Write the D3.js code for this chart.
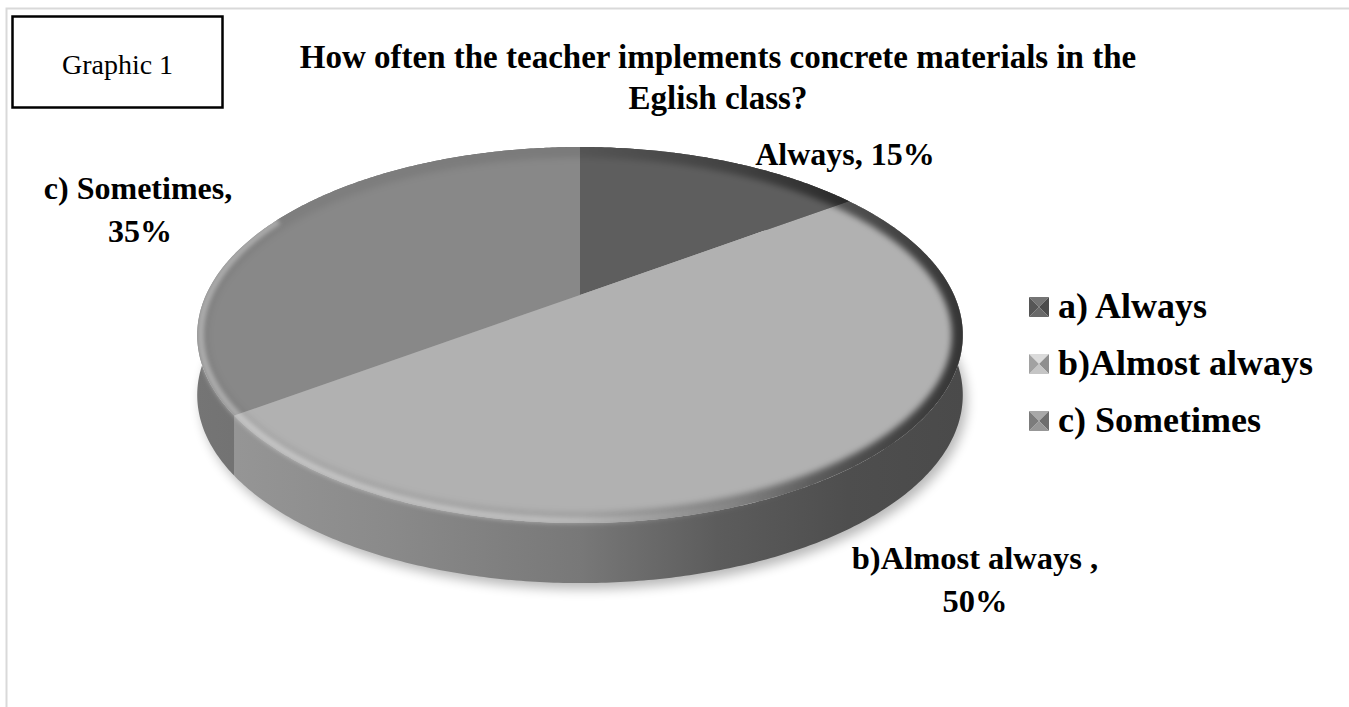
<!DOCTYPE html>
<html>
<head>
<meta charset="utf-8">
<script src="https://cdn.jsdelivr.net/npm/d3@7"></script>
<style>
  body { margin: 0; background: #fff; }
  svg { display: block; }
  text { font-family: "Liberation Serif", "Times New Roman", serif; fill: #000; }
</style>
</head>
<body>
<svg id="chart" width="1349" height="707"></svg>
<script>
// ---- data ----
const categories = ["a) Always", "b)Almost always", "c) Sometimes"];
const labelNames = ["Always", "b)Almost always ", "c) Sometimes"];
const percentages = [15, 50, 35];
const sliceColors = ["#5e5e5e", "#b1b1b1", "#888888"];
const titleLines = ["How often the teacher implements concrete materials in the", "Eglish class?"];
const boxLabel = "Graphic 1";

const svg = d3.select("#chart");
const defs = svg.append("defs");

function addText(x, y, str, size, weight, anchor) {
  return svg.append("text")
    .attr("x", x).attr("y", y)
    .attr("text-anchor", anchor)
    .style("font-size", size + "px")
    .style("font-weight", weight)
    .text(str);
}

// ---- frame ----
svg.append("rect").attr("x", 6.5).attr("y", 8.5).attr("width", 1400).attr("height", 760)
  .attr("fill", "none").attr("stroke", "#d9d9d9").attr("stroke-width", 2);

svg.append("rect").attr("x", 12.5).attr("y", 16.5).attr("width", 210).attr("height", 91)
  .attr("fill", "#fff").attr("stroke", "#000").attr("stroke-width", 2.5);
addText(117.5, 74, boxLabel, 28, "normal", "middle");

// ---- title ----
addText(718, 68, titleLines[0], 33, "bold", "middle");
addText(718, 109, titleLines[1], 33, "bold", "middle");

// ---- pie geometry (perspective-projected disc) ----
const cx = 580, cy = 295, A = 374, B = 179.5, K = 0.213, DEPTH = 60;
function proj(theta, r = 1, level = 0) {
  const u = r * Math.sin(theta), v = -r * Math.cos(theta);
  const w = 1 - K * v;
  return [cx + A * u / w, cy + B * v / w + level * DEPTH];
}
function arcPts(a0, a1, r = 1, level = 0) {
  const n = Math.max(2, Math.ceil(Math.abs(a1 - a0) / 0.01));
  return d3.range(n + 1).map(i => proj(a0 + (a1 - a0) * i / n, r, level));
}
const line = d3.line();

const pie = d3.pie().sort(null).value(d => d)(percentages);

// x extent of the disc silhouette
const xLeft = cx - A / Math.sqrt(1 - K * K), xRight = cx + A / Math.sqrt(1 - K * K);

// ---- filters ----
function blurFilter(id, sd) {
  const f = defs.append("filter").attr("id", id)
    .attr("x", "-20%").attr("y", "-20%").attr("width", "140%").attr("height", "140%");
  f.append("feGaussianBlur").attr("stdDeviation", sd);
}
blurFilter("shadowBlur", 6);
blurFilter("softBlur", 3);
blurFilter("softBlur2", 2);

// ---- drop shadow under the disc ----
svg.append("path")
  .attr("d", line(arcPts(0, 2 * Math.PI, 1, 1)) + "Z")
  .attr("transform", "translate(4,6)")
  .attr("fill", "#000").attr("opacity", 0.28)
  .attr("filter", "url(#shadowBlur)");

// ---- side walls ----
const wallStops = [[0, 0.86], [0.25, 0.78], [0.5, 0.68], [0.68, 0.52], [0.85, 0.44], [1, 0.42]];
pie.forEach((d, i) => {
  const base = d3.color(sliceColors[i]);
  const g = defs.append("linearGradient").attr("id", "wall" + i)
    .attr("gradientUnits", "userSpaceOnUse")
    .attr("x1", xLeft).attr("x2", xRight).attr("y1", 0).attr("y2", 0);
  wallStops.forEach(([t, f]) => {
    const c = d3.rgb(base.r * f, base.g * f, base.b * f);
    g.append("stop").attr("offset", t).attr("stop-color", c.formatHex());
  });
  const top = arcPts(d.startAngle, d.endAngle, 1, 0);
  const bot = arcPts(d.endAngle, d.startAngle, 1, 1);
  svg.append("path")
    .attr("d", line(top.concat(bot)) + "Z")
    .attr("fill", `url(#wall${i})`);
});

// soft light band along the front rim, straddling the top edge
const rimLight = defs.append("linearGradient").attr("id", "rimLight")
  .attr("gradientUnits", "userSpaceOnUse")
  .attr("x1", xLeft).attr("x2", xRight).attr("y1", 0).attr("y2", 0);
[[0, 0.35], [0.45, 0.3], [0.65, 0.1], [0.8, 0]].forEach(([t, o]) =>
  rimLight.append("stop").attr("offset", t).attr("stop-color", "#fff").attr("stop-opacity", o));

// ---- top faces ----
pie.forEach((d, i) => {
  const pts = [[cx, cy]].concat(arcPts(d.startAngle, d.endAngle, 1, 0));
  svg.append("path")
    .attr("d", line(pts) + "Z")
    .attr("fill", sliceColors[i]);
});

// ---- rounded bevel along the rim ----
const clip = defs.append("clipPath").attr("id", "topClip");
clip.append("path").attr("d", line(arcPts(0, 2 * Math.PI, 1, 0)) + "Z");

const rimGrad = defs.append("linearGradient").attr("id", "rimDark")
  .attr("gradientUnits", "userSpaceOnUse")
  .attr("x1", xLeft).attr("x2", xRight).attr("y1", 0).attr("y2", 0);
[[0, 0.06], [0.5, 0.1], [0.7, 0.3], [0.85, 0.55], [1, 0.7]].forEach(([t, o]) =>
  rimGrad.append("stop").attr("offset", t).attr("stop-color", "#000").attr("stop-opacity", o));

svg.append("g").attr("clip-path", "url(#topClip)")
  .append("path")
  .attr("d", line(arcPts(0, 2 * Math.PI, 1, 0)) + "Z")
  .attr("fill", "none").attr("stroke", "url(#rimDark)").attr("stroke-width", 22)
  .attr("filter", "url(#softBlur)");

svg.append("path")
  .attr("d", line(arcPts(Math.PI * 0.6, Math.PI * 1.65, 0.992, 0)))
  .attr("fill", "none").attr("stroke", "url(#rimLight)").attr("stroke-width", 7)
  .attr("filter", "url(#softBlur2)");

// ---- data labels ----
addText(845, 165, `${labelNames[0]}, ${percentages[0]}%`, 32, "bold", "middle");
addText(138, 199, `${labelNames[2]},`, 32, "bold", "middle");
addText(140, 242, `${percentages[2]}%`, 32, "bold", "middle");
addText(975, 569, `${labelNames[1]},`, 32.5, "bold", "middle");
addText(975, 612, `${percentages[1]}%`, 32.5, "bold", "middle");

// ---- legend ----
const legY = [307, 364, 421];
categories.forEach((name, i) => {
  const x0 = 1029, y0 = legY[i] - 10, s = 20;
  const c = d3.color(sliceColors[i]);
  const mx = x0 + s / 2, my = y0 + s / 2;
  const tri = [
    [[x0, y0], [x0 + s, y0], [mx, my], c.brighter(0.6)],
    [[x0 + s, y0], [x0 + s, y0 + s], [mx, my], c.darker(0.6)],
    [[x0 + s, y0 + s], [x0, y0 + s], [mx, my], c.brighter(0.3)],
    [[x0, y0 + s], [x0, y0], [mx, my], c.darker(0.25)]
  ];
  tri.forEach(t => svg.append("path").attr("d", line(t.slice(0, 3)) + "Z").attr("fill", t[3]));
  addText(1058, legY[i] + 11, name, 36, "bold", "start");
});
</script>
</body>
</html>
